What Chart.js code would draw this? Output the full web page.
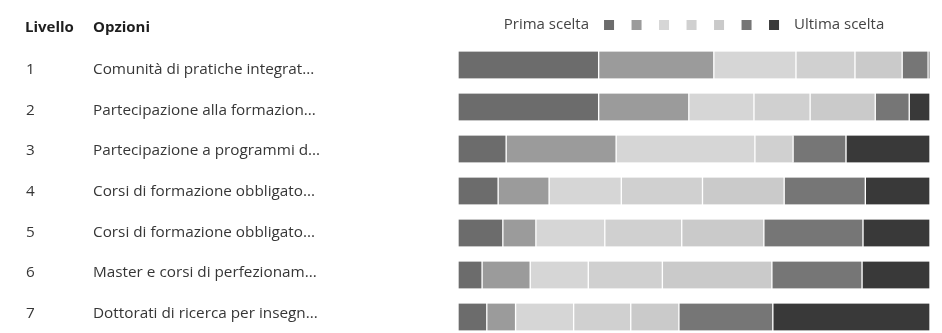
<!DOCTYPE html>
<html lang="it">
<head>
<meta charset="utf-8">
<title>Classifica delle opzioni</title>
<script src="https://cdn.jsdelivr.net/npm/chart.js@4.4.1/dist/chart.umd.min.js"></script>
<style>
  html, body { margin: 0; padding: 0; background: #fff; }
  canvas { display: block; }
</style>
</head>
<body>
<canvas id="rankChart" width="942" height="333"></canvas>
<script>
// Rows of the ranking table
const levels = ['1', '2', '3', '4', '5', '6', '7'];
const options = [
  'Comunità di pratiche integrat...',
  'Partecipazione alla formazion...',
  'Partecipazione a programmi d...',
  'Corsi di formazione obbligato...',
  'Corsi di formazione obbligato...',
  'Master e corsi di perfezionam...',
  'Dottorati di ricerca per insegn...',
];

// Share of answers (%) that put each option in position 1..7
const rank1 = [29.8, 29.8, 10.2,  8.5,  9.5,  5.1,  6.1];
const rank2 = [24.4, 19.1, 23.3, 10.8,  7.0, 10.2,  6.1];
const rank3 = [17.4, 13.8, 29.4, 15.3, 14.6, 12.3, 12.3];
const rank4 = [12.5, 11.9,  8.1, 17.2, 16.3, 15.7, 12.1];
const rank5 = [10.0, 13.8,  0.0, 17.3, 17.4, 23.2, 10.2];
const rank6 = [ 5.5,  7.2, 11.2, 17.2, 21.0, 19.1, 19.9];
const rank7 = [ 0.4,  4.4, 17.8, 13.7, 14.2, 14.4, 33.3];

const rankSeries = [rank1, rank2, rank3, rank4, rank5, rank6, rank7];
const rankColors = ['#6c6c6c', '#9b9b9b', '#d6d6d6', '#d0d0d0', '#cacaca', '#767676', '#393939'];

const legendFirst = 'Prima scelta';
const legendLast = 'Ultima scelta';

const FONT = '"Open Sans", "Noto Sans", sans-serif';

// Draws the two text columns, the header and the first/last legend
const rankTable = {
  id: 'rankTable',
  afterDraw(chart) {
    const { ctx, chartArea, scales: { y } } = chart;
    ctx.save();
    ctx.textBaseline = 'middle';
    ctx.textAlign = 'left';

    ctx.fillStyle = '#1e1e1e';
    ctx.font = `700 15px ${FONT}`;
    ctx.fillText('Livello', 25, 28);
    ctx.fillText('Opzioni', 93, 28);

    // text rows sit a touch tighter than the bar rows
    ctx.fillStyle = '#363636';
    ctx.font = `15.3px ${FONT}`;
    levels.forEach((lv, i) => {
      const py = y.getPixelForValue(i) + 4.5 - i * 1.3;
      ctx.fillText(lv, 26, py);
      ctx.fillText(options[i], 93, py);
    });

    // legend: "Prima scelta" [7 swatches] "Ultima scelta", centred over the bars
    ctx.font = `15px ${FONT}`;
    ctx.fillStyle = '#444';
    const box = 10, step = 27.5, gap = 15;
    const wFirst = ctx.measureText(legendFirst).width;
    const wLast = ctx.measureText(legendLast).width;
    const total = wFirst + gap + step * (rankColors.length - 1) + box + gap + wLast;
    let lx = (chartArea.left + chartArea.right) / 2 - total / 2;
    const ly = 25;
    ctx.fillText(legendFirst, lx, ly);
    lx += wFirst + gap;
    rankColors.forEach((c, i) => {
      ctx.fillStyle = c;
      ctx.fillRect(lx + i * step, ly - box / 2, box, box);
    });
    lx += step * (rankColors.length - 1) + box + gap;
    ctx.fillStyle = '#444';
    ctx.fillText(legendLast, lx, ly);
    ctx.restore();
  },
};

new Chart(document.getElementById('rankChart'), {
  type: 'bar',
  data: {
    labels: levels,
    datasets: rankSeries.map((data, i) => ({
      label: String(i + 1),
      data,
      backgroundColor: rankColors[i],
      borderColor: '#ffffff',
      borderWidth: { left: 1, right: 1, top: 0, bottom: 0 },
      borderSkipped: false,
      barThickness: 27,
      clip: false,
    })),
  },
  options: {
    indexAxis: 'y',
    responsive: false,
    animation: false,
    layout: { padding: { left: 458, right: 12, top: 65, bottom: 16 } },
    plugins: {
      legend: { display: false },
      tooltip: { enabled: false },
    },
    scales: {
      x: { stacked: true, min: 0, max: 100, display: false },
      y: { stacked: true, offset: false, display: false },
    },
  },
  plugins: [rankTable],
});
</script>
</body>
</html>
